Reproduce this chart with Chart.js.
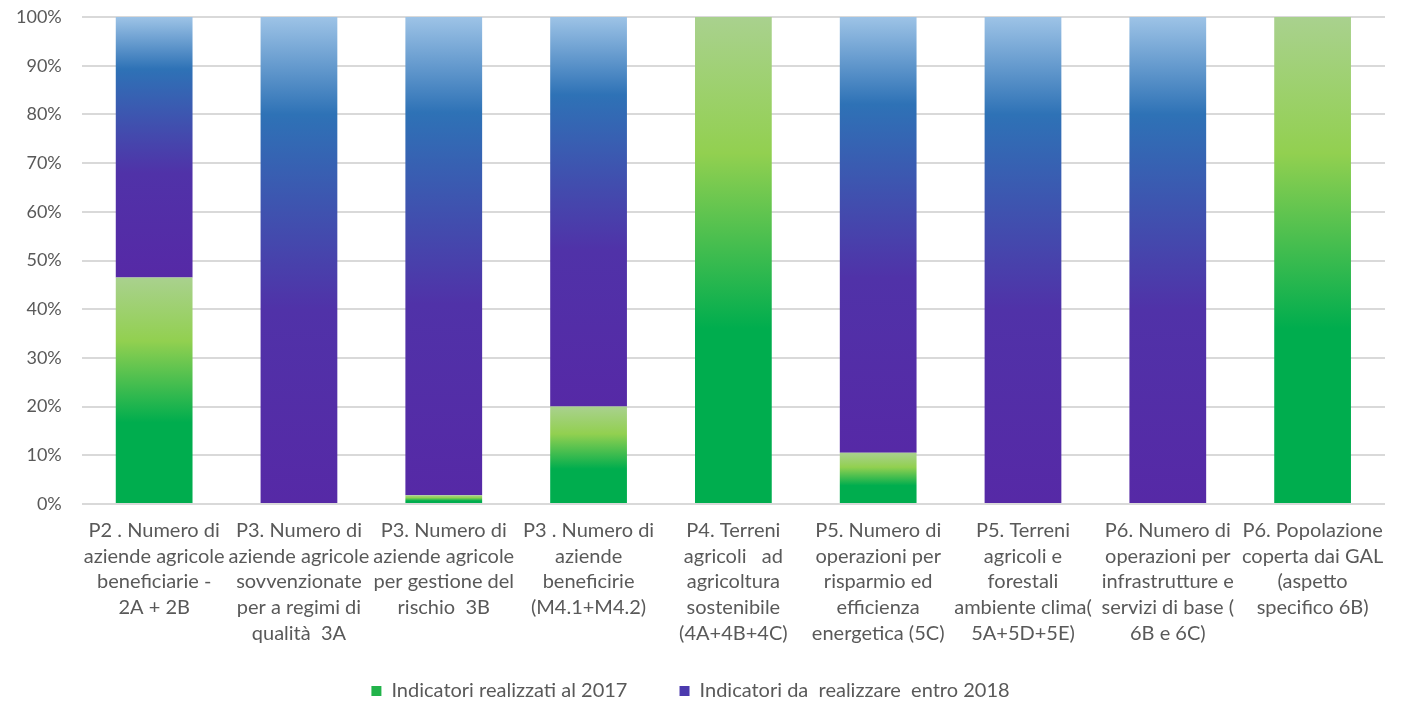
<!DOCTYPE html>
<html>
<head>
<meta charset="utf-8">
<script src="https://cdn.jsdelivr.net/npm/chart.js@4.4.1/dist/chart.umd.min.js"></script>
<style>
  html, body { margin: 0; padding: 0; background: #fff; }
  #wrap { width: 1401px; height: 706px; }
</style>
</head>
<body>
<div id="wrap"><canvas id="stackChart"></canvas></div>
<script>
const categories = [
    ["P2 . Numero di", "aziende agricole", "beneficiarie -", "2A + 2B"],
    ["P3. Numero di", "aziende agricole", "sovvenzionate", "per a regimi di", "qualità  3A"],
    ["P3. Numero di", "aziende agricole", "per gestione del", "rischio  3B"],
    ["P3 . Numero di", "aziende", "beneficirie", "(M4.1+M4.2)"],
    ["P4. Terreni", "agricoli   ad", "agricoltura", "sostenibile", "(4A+4B+4C)"],
    ["P5. Numero di", "operazioni per", "risparmio ed", "efficienza", "energetica (5C)"],
    ["P5. Terreni", "agricoli e", "forestali", "ambiente clima(", "5A+5D+5E)"],
    ["P6. Numero di", "operazioni per", "infrastrutture e", "servizi di base (", "6B e 6C)"],
    ["P6. Popolazione", "coperta dai GAL", "(aspetto", "specifico 6B)"]
];
const realizzati = [46.5, 0, 1.8, 20, 100, 10.5, 0, 0, 100];
const daRealizzare = [53.5, 100, 98.2, 80, 0, 89.5, 100, 100, 0];
const seriesNames = ["Indicatori realizzati al 2017", "Indicatori da  realizzare  entro 2018"];

const textColor = "#595959";
const fontFamily = "Lato, 'Open Sans', sans-serif";

// gradient per segment, bottom -> top
function segmentGradient(ctx, stops) {
    const chart = ctx.chart;
    if (!chart.chartArea || ctx.dataIndex === undefined) return stops[0][1];
    const y = chart.scales.y;
    const i = ctx.dataIndex;
    let lo = 0, hi;
    if (ctx.datasetIndex === 0) {
        hi = realizzati[i];
    } else {
        lo = realizzati[i];
        hi = realizzati[i] + daRealizzare[i];
    }
    const yBottom = y.getPixelForValue(lo);
    const yTop = y.getPixelForValue(hi);
    if (Math.abs(yBottom - yTop) < 1) return stops[0][1];
    const g = chart.ctx.createLinearGradient(0, yBottom, 0, yTop);
    stops.forEach(s => g.addColorStop(s[0], s[1]));
    return g;
}

const greenStops = [[0, "#00AD4E"], [0.36, "#00AD4E"], [0.72, "#92D050"], [1, "#A9D18E"]];
const blueStops = [[0, "#5629A6"], [0.4, "#5032A8"], [0.8, "#2E72B6"], [1, "#9DC3E6"]];

new Chart("stackChart", {
    type: "bar",
    data: {
        labels: categories,
        datasets: [
            {
                label: seriesNames[0],
                data: realizzati,
                backgroundColor: ctx => segmentGradient(ctx, greenStops),
                borderWidth: 0,
                categoryPercentage: 1,
                barPercentage: 0.53
            },
            {
                label: seriesNames[1],
                data: daRealizzare,
                backgroundColor: ctx => segmentGradient(ctx, blueStops),
                borderWidth: 0,
                categoryPercentage: 1,
                barPercentage: 0.53
            }
        ]
    },
    options: {
        responsive: true,
        maintainAspectRatio: false,
        animation: false,
        layout: { padding: { left: -4, right: 16, top: 0, bottom: -5 } },
        plugins: {
            tooltip: { enabled: false },
            legend: {
                position: "bottom",
                labels: {
                    color: textColor,
                    font: { family: fontFamily, size: 20 },
                    boxWidth: 10,
                    boxHeight: 10,
                    padding: 6,
                    generateLabels: function(chart) {
                        const cols = ["#22B34A", "#4B3AAE"];
                        return chart.data.datasets.map((ds, i) => ({
                            // trailing spaces widen the gap between the two items
                            text: i === 0 ? ds.label + "         " : ds.label,
                            fillStyle: cols[i],
                            strokeStyle: cols[i],
                            lineWidth: 0,
                            datasetIndex: i,
                            fontColor: textColor
                        }));
                    }
                }
            }
        },
        scales: {
            x: {
                stacked: true,
                grid: { display: false },
                border: { display: false },
                afterFit: scale => {
                    scale.height = 171;
                    scale.paddingLeft = 0;
                    scale.paddingRight = 0;
                },
                ticks: {
                    color: textColor,
                    font: { family: fontFamily, size: 20, lineHeight: 1.28 },
                    maxRotation: 0,
                    minRotation: 0,
                    autoSkip: false,
                    padding: 6
                }
            },
            y: {
                stacked: true,
                min: 0,
                max: 100,
                grid: { color: "#D9D9D9", lineWidth: 2, drawTicks: false },
                border: { display: false },
                afterFit: scale => {
                    scale.paddingTop = 17;
                    scale.paddingBottom = 0;
                },
                ticks: {
                    stepSize: 10,
                    color: textColor,
                    font: { family: fontFamily, size: 18 },
                    padding: 20,
                    callback: v => v + "%"
                }
            }
        }
    }
});
</script>
</body>
</html>
